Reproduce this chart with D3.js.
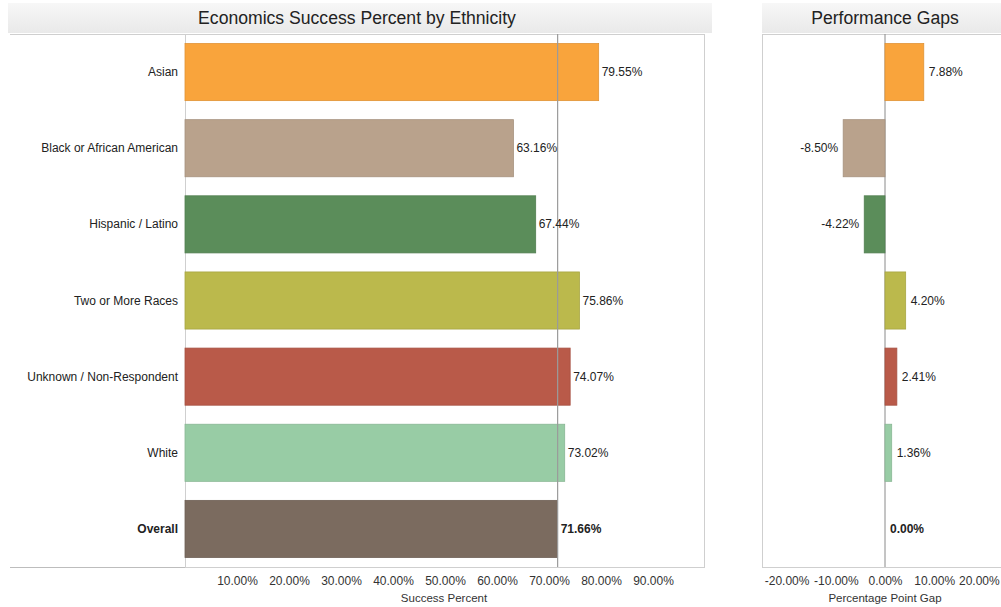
<!DOCTYPE html>
<html>
<head>
<meta charset="utf-8">
<script src="https://cdn.jsdelivr.net/npm/d3@7"></script>
<style>
  html, body { margin: 0; padding: 0; background: #fff; }
  svg { display: block; font-family: "Liberation Sans", Arial, sans-serif; }
</style>
</head>
<body>
<svg id="chart" width="1001" height="607"></svg>
<script>
// Ethnic groups and their economics success rates (percent)
const categories = ["Asian", "Black or African American", "Hispanic / Latino", "Two or More Races",
                    "Unknown / Non-Respondent", "White", "Overall"];
const successPct = [79.55, 63.16, 67.44, 75.86, 74.07, 73.02, 71.66];
// Gap to overall, in percentage points
const gapPts = [7.88, -8.50, -4.22, 4.20, 2.41, 1.36, 0.00];
const barColors = ["#F9A43C", "#B9A28C", "#5B8D5A", "#BBB94C", "#B95A49", "#98CCA5", "#7B6B5F"];
const successTicks = [10, 20, 30, 40, 50, 60, 70, 80, 90];
const gapTicks = [-20, -10, 0, 10, 20];
const overallPct = 71.66;

const svg = d3.select("#chart");
const fmt = v => v.toFixed(2) + "%";
const FS = 12;

// Shared vertical layout
const plotTop = 34, plotBottom = 567;
const y = d3.scaleBand().domain(categories).range([plotTop, plotBottom]).paddingInner(0.25).paddingOuter(0.125);

// Title bands
const defs = svg.append("defs");
const grad = defs.append("linearGradient").attr("id", "hdr").attr("x1", 0).attr("x2", 0).attr("y1", 0).attr("y2", 1);
grad.append("stop").attr("offset", "0%").attr("stop-color", "#f7f7f7");
grad.append("stop").attr("offset", "100%").attr("stop-color", "#e9e9e9");

function header(x0, x1, text, cx) {
  svg.append("rect").attr("x", x0).attr("y", 3).attr("width", x1 - x0).attr("height", 30)
    .attr("fill", "url(#hdr)");
  svg.append("text").attr("x", cx).attr("y", 24).attr("text-anchor", "middle")
    .attr("font-size", 17.6).attr("fill", "#222").text(text);
}
header(8, 712, "Economics Success Percent by Ethnicity", 357);
header(762, 1001, "Performance Gaps", 885);

// ---------- Left panel: success percent ----------
const x = d3.scaleLinear().domain([0, 100]).range([185, 705]);

// header rule and row-label baseline
svg.append("line").attr("x1", 10).attr("x2", 705).attr("y1", plotTop + 0.5).attr("y2", plotTop + 0.5)
  .attr("stroke", "#cfcfcf");
svg.append("line").attr("x1", 10).attr("x2", 185).attr("y1", plotBottom + 0.5).attr("y2", plotBottom + 0.5)
  .attr("stroke", "#bdbdbd");
svg.append("rect").attr("x", 185.5).attr("y", plotTop + 0.5).attr("width", 705 - 185 - 1).attr("height", plotBottom - plotTop)
  .attr("fill", "none").attr("stroke", "#cfcfcf");

const left = svg.append("g");
left.selectAll("rect.bar").data(categories).join("rect")
  .attr("class", "bar")
  .attr("x", x(0)).attr("y", d => y(d))
  .attr("width", (d, i) => x(successPct[i]) - x(0))
  .attr("height", y.bandwidth())
  .attr("fill", (d, i) => barColors[i])
  .attr("stroke", (d, i) => d3.color(barColors[i]).darker(0.3))
  .attr("stroke-width", 0.8);

// reference line at the overall rate
left.append("line")
  .attr("x1", x(overallPct)).attr("x2", x(overallPct))
  .attr("y1", plotTop).attr("y2", plotBottom)
  .attr("stroke", "#9a9a9a").attr("stroke-width", 1.2);

left.selectAll("text.val").data(categories).join("text")
  .attr("class", "val")
  .attr("x", (d, i) => x(successPct[i]) + 3)
  .attr("y", d => y(d) + y.bandwidth() / 2 + 4)
  .attr("font-size", FS)
  .attr("font-weight", d => d === "Overall" ? "bold" : "normal")
  .attr("fill", "#222")
  .text((d, i) => fmt(successPct[i]));

// row labels
svg.selectAll("text.row").data(categories).join("text")
  .attr("class", "row")
  .attr("x", 178)
  .attr("y", d => y(d) + y.bandwidth() / 2 + 4)
  .attr("text-anchor", "end")
  .attr("font-size", FS)
  .attr("font-weight", d => d === "Overall" ? "bold" : "normal")
  .attr("fill", "#222")
  .text(d => d);

const xAxis = d3.axisBottom(x).tickValues(successTicks).tickSize(0).tickPadding(8)
  .tickFormat(d => d.toFixed(2) + "%");
svg.append("g").attr("transform", `translate(0,${plotBottom + 1})`).call(xAxis)
  .call(g => g.select(".domain").remove())
  .call(g => g.selectAll("text").attr("font-size", FS).attr("fill", "#333")
    .attr("font-family", "Liberation Sans, Arial, sans-serif"));
svg.append("text").attr("x", 444).attr("y", 602).attr("text-anchor", "middle")
  .attr("font-size", 11.5).attr("fill", "#333").text("Success Percent");

// ---------- Right panel: performance gaps ----------
const gx = d3.scaleLinear().domain([-25, 25]).range([762, 1008]);

svg.append("rect").attr("x", 762.5).attr("y", plotTop + 0.5).attr("width", 1008 - 762).attr("height", plotBottom - plotTop)
  .attr("fill", "none").attr("stroke", "#cfcfcf");

const right = svg.append("g");
right.append("line")
  .attr("x1", gx(0)).attr("x2", gx(0)).attr("y1", plotTop).attr("y2", plotBottom)
  .attr("stroke", "#8a8a8a").attr("stroke-width", 1);

right.selectAll("rect.gap").data(categories).join("rect")
  .attr("class", "gap")
  .attr("x", (d, i) => gx(Math.min(0, gapPts[i])))
  .attr("y", d => y(d))
  .attr("width", (d, i) => Math.abs(gx(gapPts[i]) - gx(0)))
  .attr("height", y.bandwidth())
  .attr("fill", (d, i) => barColors[i])
  .attr("stroke", (d, i) => gapPts[i] === 0 ? "none" : d3.color(barColors[i]).darker(0.3))
  .attr("stroke-width", 0.8);

right.selectAll("text.gval").data(categories).join("text")
  .attr("class", "gval")
  .attr("x", (d, i) => gapPts[i] < 0 ? gx(gapPts[i]) - 5 : gx(gapPts[i]) + 5)
  .attr("y", d => y(d) + y.bandwidth() / 2 + 4)
  .attr("text-anchor", (d, i) => gapPts[i] < 0 ? "end" : "start")
  .attr("font-size", FS)
  .attr("font-weight", d => d === "Overall" ? "bold" : "normal")
  .attr("fill", "#222")
  .text((d, i) => fmt(gapPts[i]));

const gAxis = d3.axisBottom(gx).tickValues(gapTicks).tickSize(0).tickPadding(8)
  .tickFormat(d => d.toFixed(2) + "%");
svg.append("g").attr("transform", `translate(0,${plotBottom + 1})`).call(gAxis)
  .call(g => g.select(".domain").remove())
  .call(g => g.selectAll("text").attr("font-size", FS).attr("fill", "#333")
    .attr("font-family", "Liberation Sans, Arial, sans-serif"))
  // keep the outermost tick label inside the page
  .call(g => g.selectAll("text").each(function () {
    const b = this.getBBox();
    const tx = +d3.select(this.parentNode).attr("transform").match(/translate\(([-\d.]+)/)[1];
    const over = tx + b.x + b.width - 1000;
    if (over > 0) d3.select(this).attr("dx", -over);
  }));
svg.append("text").attr("x", 885).attr("y", 602).attr("text-anchor", "middle")
  .attr("font-size", 11.5).attr("fill", "#333").text("Percentage Point Gap");
</script>
</body>
</html>
